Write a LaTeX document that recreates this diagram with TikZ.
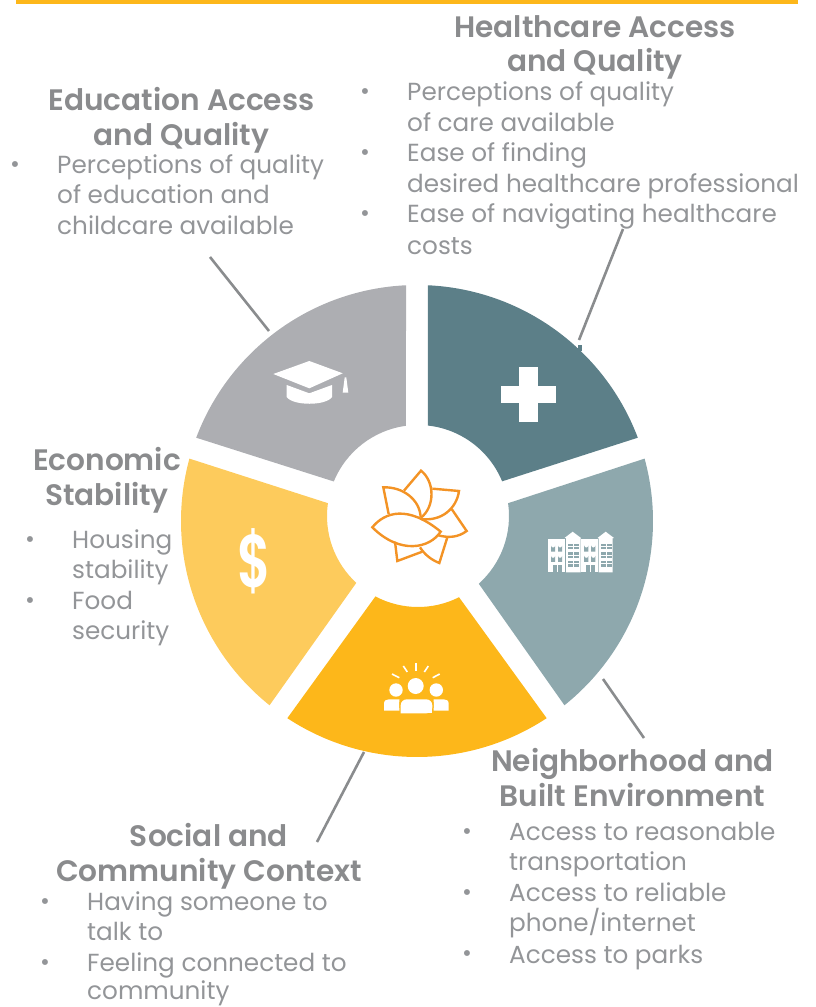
\documentclass[tikz,border=0pt]{standalone}
\usepackage{fontspec}
\setmainfont{Poppins}[BoldFont={Poppins SemiBold}]
\definecolor{cteal}{HTML}{5C7F88}
\definecolor{cltteal}{HTML}{8EA8AD}
\definecolor{cgold}{HTML}{FDB71A}
\definecolor{cltgold}{HTML}{FDCB5C}
\definecolor{cgrey}{HTML}{ADAEB2}
\definecolor{ctext}{HTML}{939598}
\definecolor{chead}{HTML}{8A8B8D}
\definecolor{cline}{HTML}{8A8C8E}
\definecolor{cflower}{HTML}{F39325}
\tikzset{
  head/.style={text=chead,font=\fontsize{29.6}{30}\selectfont\bfseries,anchor=base,inner sep=0pt},
  body/.style={text=ctext,font=\fontsize{24.7}{30}\selectfont,anchor=base west,inner sep=0pt},
  bul/.style={text=ctext,font=\fontsize{24}{30}\selectfont,anchor=center,inner sep=0pt,yshift=-3pt},
  leader/.style={draw=cline,line width=2.6pt},
  petal/.style={draw=cflower,line width=2.4pt,line join=miter},
}
% #1,#2 outer boundary angles; #3,#4 inner corner angles; #5 colour
\newcommand{\sector}[5]{%
  \fill[#5] (#1+2.67:236) arc[start angle=#1+2.67,end angle=#2-2.67,radius=236]
    -- ([shift={(1,5)}]#3:91) arc[start angle=#3,end angle=#4,radius=91] -- cycle;}
\begin{document}
\begin{tikzpicture}[x=1pt,y=-1pt]
\useasboundingbox (0,0) rectangle (815,1007);
\fill[cgold] (16,0) rectangle (798,4);
% wheel
\begin{scope}[shift={(417,521)},y=1pt]
\sector{18}{90}{83.7}{22.4}{cteal}
\sector{90}{162}{157.7}{97.6}{cgrey}
\sector{162}{234}{227.3}{171.9}{cltgold}
\sector{234}{306}{296.8}{242.1}{cgold}
\sector{306}{378}{368.1}{311.9}{cltteal}
\end{scope}
\fill[cteal] (578,345) rectangle (582,351);
% leaders
\coordinate (e1) at (210,257); \coordinate (e2) at (269,331);
\coordinate (h1) at (623,229); \coordinate (h2) at (579,340);
\coordinate (n1) at (603,679); \coordinate (n2) at (644,738);
\coordinate (s1) at (364,752); \coordinate (s2) at (317,842);
\draw[leader] (e1) -- (e2);
\draw[leader] (h1) -- (h2);
\draw[leader] (n1) -- (n2);
\draw[leader] (s1) -- (s2);
% cross
\fill[white] (519,367) rectangle (538,422);
\fill[white] (501,386) rectangle (556,403);
% cap
\fill[white] (273.3,374) -- (309.3,361) -- (342.7,373.3) -- (309.3,388.3) -- cycle;
\fill[white] (286.7,385) -- (309.3,393.3) -- (332,385) -- (332,397)
  .. controls (326,406) and (293,406) .. (286.7,397) -- cycle;
\fill[white] (344.7,377.3) -- (342.7,392.7) -- (348.3,392.7) -- (346.3,377.3) -- cycle;
% dollar
\node[text=white,font=\fontsize{68}{68}\selectfont\bfseries,inner sep=0pt,xscale=.76,yscale=1.1] (dollar) at (254,561) {\$};
% buildings
\fill[white] (548,539.3) rectangle (565.3,572.3);
\fill[white] (581.3,539.3) rectangle (598,572.3);
\fill[white] (566,538) -- (564.5,538) -- (572.7,531.7) -- (581,538) -- (580.7,538) -- (580.7,572.3) -- (566,572.3) -- cycle;
\fill[white] (598.7,538) -- (597.5,538) -- (605.7,531.7) -- (614,538) -- (612.7,538) -- (612.7,572.3) -- (598.7,572.3) -- cycle;
\foreach \bx in {0,33.2}{
  \foreach \wx in {551,558}{
    \foreach \wy in {544,554.3}{
      \fill[cltteal] (\wx+\bx,\wy+7.5) -- (\wx+\bx,\wy+1.5) arc[start angle=180,end angle=0,radius=2.1] -- (\wx+\bx+4.2,\wy+7.5) -- cycle;
    }}
  \fill[cltteal] (552.6+\bx,565) rectangle (561.6+\bx,572.3);
  \fill[white] (556.7+\bx,565) rectangle (557.5+\bx,572.3);
  \foreach \wy in {543.5,552.2,561}{
    \fill[cltteal] (568+\bx,\wy) rectangle (578.7+\bx,\wy+5.5);
    \draw[white,line width=.7pt] (573.3+\bx,\wy) -- (573.3+\bx,\wy+5.5);
    \draw[white,line width=.7pt] (568+\bx,\wy+2.7) -- (578.7+\bx,\wy+2.7);
  }
}
% people
\fill[white] (415.7,686) circle[radius=8];
\fill[white] (396,690) circle[radius=6.7];
\fill[white] (436.3,690) circle[radius=6.7];
\fill[white,rounded corners=6pt] (400.7,713.3) -- (400.7,699.3) -- (432.3,699.3) -- (432.3,713.3) [sharp corners] -- cycle;
\fill[white] (400.7,706) rectangle (432.3,713.3);
\fill[white] (384,710.7) -- (384,704) .. controls (384,700.5) and (386,699.3) .. (389,699.3) -- (399.5,699.3) .. controls (399,703) and (399,707) .. (399.5,710.7) -- cycle;
\fill[white] (448.7,710.7) -- (448.7,704) .. controls (448.7,700.5) and (446.7,699.3) .. (443.7,699.3) -- (433.5,699.3) .. controls (434,703) and (434,707) .. (433.5,710.7) -- cycle;
\foreach \xa/\ya/\xb/\yb in {415.7/663.3/415.7/670.7,403.3/666/407.3/672,428.3/666/424.3/672,392/674/399.3/677.7,439.7/674/432.7/677.7}{
  \draw[white,line width=1.6pt] (\xa,\ya) -- (\xb,\yb);
}
% flower
\begin{scope}[shift={(340,440)},x=.3333pt,y=-.3333pt]
\draw[petal] (146,222) -- (130,142) .. controls (190,140) and (240,180) .. (242,232);
\draw[petal] (192,152) -- (243,92) .. controls (285,125) and (285,200) .. (243,233);
\draw[petal] (277,146) -- (357,153) .. controls (350,205) and (305,245) .. (243,237);
\draw[petal] (335,207) -- (380,273) .. controls (355,292) and (325,295) .. (292,285);
\draw[petal] (322,292) -- (298,369) .. controls (275,360) and (255,345) .. (240,322);
\draw[petal] (165,305) -- (172,363) -- (247,335);
\draw[petal] (97,262) .. controls (135,215) and (205,195) .. (302,275) .. controls (270,325) and (180,345) .. (97,262) -- cycle;
\end{scope}
% Education
\node[head] (eduh1) at (181.5,110) {Education Access};
\node[head] (eduh2) at (181.5,145) {and Quality};
\node[bul] (edub1) at (15,164) {•};
\node[body] (edu1) at (57,173) {Perceptions of quality};
\node[body] (edu2) at (57,203) {of education and};
\node[body] (edu3) at (57,234) {childcare available};
% Healthcare
\node[head] (hlth1) at (595,37) {Healthcare Access};
\node[head] (hlth2) at (595,71) {and Quality};
\node[bul] (hb1) at (365,91) {•};
\node[bul] (hb2) at (365,152) {•};
\node[bul] (hb3) at (365,213) {•};
\node[body] (h1t) at (407,100) {Perceptions of quality};
\node[body] (h2t) at (407,131) {of care available};
\node[body] (h3t) at (407,161) {Ease of finding};
\node[body] (h4t) at (407,192) {desired healthcare professional};
\node[body] (h5t) at (407,222) {Ease of navigating healthcare};
\node[body] (h6t) at (407,254) {costs};
% Economic
\node[head] (ech1) at (107,470) {Economic};
\node[head] (ech2) at (107,505) {Stability};
\node[bul] (ecb1) at (30,539) {•};
\node[bul] (ecb2) at (30,600) {•};
\node[body] (ec1) at (72,548) {Housing};
\node[body] (ec2) at (72,578) {stability};
\node[body] (ec3) at (72,609) {Food};
\node[body] (ec4) at (72,639) {security};
% Social
\node[head] (soh1) at (209,846) {Social and};
\node[head] (soh2) at (209,881) {Community Context};
\node[bul] (sob1) at (45,901) {•};
\node[bul] (sob2) at (45,962) {•};
\node[body] (so1) at (87,910) {Having someone to};
\node[body] (so2) at (87,940) {talk to};
\node[body] (so3) at (87,971) {Feeling connected to};
\node[body] (so4) at (87,999.5) {community};
% Neighborhood
\node[head] (neh1) at (632.5,771) {Neighborhood and};
\node[head] (neh2) at (632.5,806) {Built Environment};
\node[bul] (neb1) at (467,831) {•};
\node[bul] (neb2) at (467,892) {•};
\node[bul] (neb3) at (467,953) {•};
\node[body] (ne1) at (509,840) {Access to reasonable};
\node[body] (ne2) at (509,870) {transportation};
\node[body] (ne3) at (509,901) {Access to reliable};
\node[body] (ne4) at (509,931) {phone/internet};
\node[body] (ne5) at (509,963) {Access to parks};
\end{tikzpicture}
\end{document}
